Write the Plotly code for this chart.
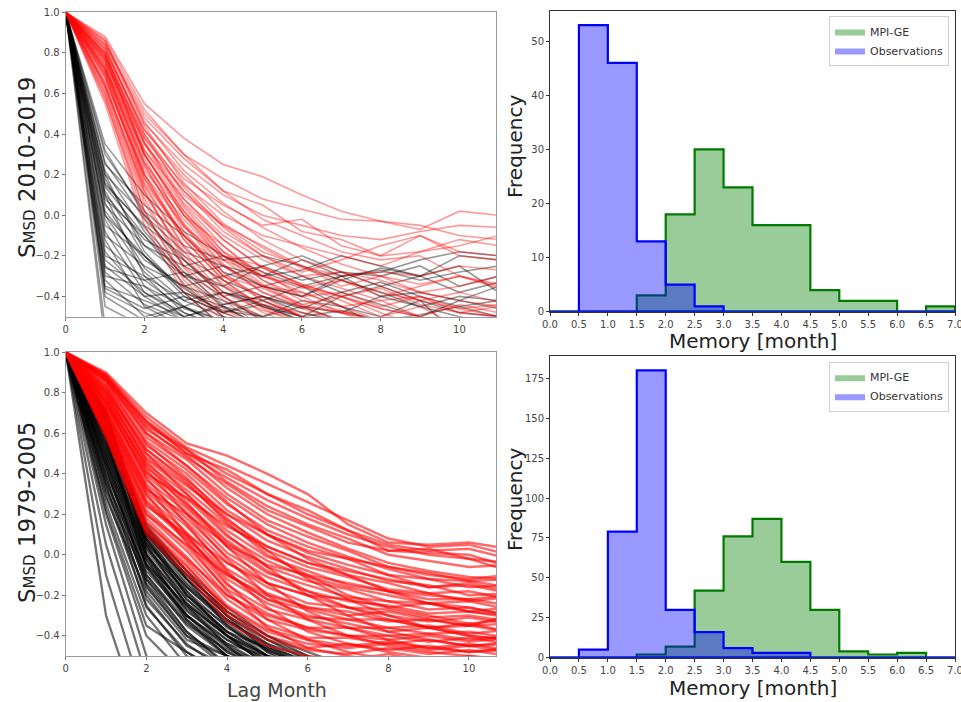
import plotly.graph_objects as go

# ---------------- data ----------------
LAGS = list(range(12))

# S_MSD autocorrelation curves, 2010-2019 (observations = black, MPI-GE = red)
TOP_OBS = [
    [1, -0.62, -0.7, -0.6, -0.65, -0.7, -0.6, -0.7, -0.65, -0.7, -0.6, -0.65],
    [1, -0.55, -0.6, -0.7],
    [1, -0.45, -0.55, -0.6],
    [1, -0.38, -0.48, -0.55, -0.5, -0.6],
    [1, -0.35, -0.42, -0.5, -0.45, -0.55, -0.6],
    [1, -0.3, -0.35, -0.45, -0.52, -0.6],
    [1, -0.25, -0.4, -0.38, -0.47, -0.5, -0.42, -0.45, -0.55],
    [1, -0.2, -0.3, -0.42, -0.38, -0.45, -0.5, -0.4, -0.35, -0.42, -0.48, -0.5],
    [1, -0.15, -0.32, -0.28, -0.4, -0.35, -0.3, -0.38, -0.33, -0.4, -0.45, -0.42],
    [1, -0.1, -0.25, -0.35, -0.3, -0.25, -0.32, -0.28, -0.35, -0.3, -0.38, -0.33],
    [1, -0.05, -0.2, -0.38, -0.45, -0.5, -0.55],
    [1, 0.0, -0.28, -0.45, -0.55],
    [1, 0.05, -0.15, -0.3, -0.35, -0.25, -0.2, -0.28, -0.3, -0.25, -0.35, -0.3],
    [1, 0.1, -0.12, -0.22, -0.38, -0.42, -0.5, -0.55],
    [1, 0.15, -0.05, -0.2, -0.32, -0.4, -0.45, -0.52],
    [1, 0.2, 0.0, -0.18, -0.25, -0.3, -0.22, -0.3, -0.28, -0.22, -0.18, -0.2],
    [1, 0.25, 0.05, -0.1, -0.28, -0.35, -0.4, -0.32, -0.38, -0.45, -0.4, -0.42],
    [1, 0.3, 0.02, -0.15, -0.22, -0.2, -0.25, -0.32, -0.26, -0.3, -0.25, -0.38],
    [1, 0.35, 0.1, -0.08, -0.2, -0.3, -0.27, -0.2, -0.25, -0.3, -0.2, -0.22],
    [1, 0.12, -0.2, -0.4, -0.48, -0.42, -0.35, -0.45, -0.5, -0.42, -0.6],
    [1, -0.32, -0.5, -0.45, -0.38, -0.44, -0.5, -0.47, -0.52, -0.49, -0.45, -0.5],
    [1, 0.08, -0.1, -0.3, -0.25, -0.35, -0.4, -0.3, -0.4, -0.38, -0.42, -0.35],
    [1, -0.02, -0.35, -0.5, -0.6],
    [1, 0.22, -0.08, -0.3, -0.45, -0.55],
    [1, -0.12, -0.45, -0.55],
    [1, 0.18, -0.15, -0.25, -0.2, -0.28, -0.35, -0.3, -0.27, -0.32, -0.28, -0.25],
    [1, -0.22, -0.38, -0.5, -0.44, -0.4, -0.46, -0.38, -0.44, -0.5, -0.42, -0.46],
    [1, 0.02, -0.22, -0.35, -0.42, -0.5, -0.45, -0.48, -0.4, -0.45, -0.5, -0.55],
    [1, -0.4, -0.52, -0.45, -0.55],
    [1, -0.36, -0.46, -0.4, -0.48, -0.44, -0.52],
    [1, -0.28, -0.44, -0.52],
    [1, -0.18, -0.4, -0.52],
    [1, -0.08, -0.38, -0.48, -0.55],
    [1, 0.0, -0.2, -0.36, -0.48, -0.55],
    [1, 0.06, -0.26, -0.42, -0.5, -0.55],
    [1, 0.14, -0.1, -0.34, -0.5, -0.58],
    [1, 0.2, -0.18, -0.38, -0.55],
    [1, 0.26, -0.02, -0.22, -0.4, -0.52],
    [1, 0.32, 0.0, -0.25, -0.35, -0.45, -0.52],
    [1, 0.16, -0.06, -0.28, -0.44, -0.4, -0.48, -0.52],
    [1, -0.26, -0.32, -0.46, -0.52],
    [1, 0.1, -0.3, -0.48, -0.56],
]
TOP_MODEL = [
    [1, 0.88, 0.55, 0.38, 0.25, 0.19, 0.1, 0.02, -0.03, -0.07, 0.02, 0.0],
    [1, 0.85, 0.5, 0.3, 0.18, 0.08, 0.03, -0.02, -0.03, -0.05, -0.1, -0.12],
    [1, 0.86, 0.45, 0.25, 0.1, 0.0, -0.05, -0.1, -0.12, -0.08, -0.05, -0.06],
    [1, 0.82, 0.42, 0.18, 0.05, -0.05, -0.02, -0.15, -0.2, -0.1, -0.18, -0.2],
    [1, 0.8, 0.38, 0.15, 0.0, -0.1, -0.15, -0.2, -0.25, -0.18, -0.15, -0.1],
    [1, 0.83, 0.4, 0.1, -0.05, -0.18, -0.25, -0.35, -0.3, -0.38, -0.35, -0.3],
    [1, 0.78, 0.35, 0.05, -0.15, -0.3, -0.35, -0.42, -0.5, -0.45, -0.55],
    [1, 0.8, 0.3, 0.0, -0.2, -0.25, -0.35, -0.4, -0.48, -0.55],
    [1, 0.75, 0.28, -0.05, -0.25, -0.35, -0.45, -0.52],
    [1, 0.77, 0.32, 0.08, -0.1, -0.22, -0.3, -0.28, -0.32, -0.38, -0.42, -0.45],
    [1, 0.72, 0.25, -0.08, -0.3, -0.4, -0.5, -0.55],
    [1, 0.7, 0.2, -0.12, -0.32, -0.45, -0.52],
    [1, 0.74, 0.22, -0.02, -0.22, -0.35, -0.38, -0.45, -0.42, -0.5, -0.55],
    [1, 0.68, 0.15, -0.15, -0.35, -0.48, -0.55],
    [1, 0.65, 0.12, -0.2, -0.4, -0.5, -0.6],
    [1, 0.62, 0.08, -0.25, -0.42, -0.55],
    [1, 0.6, 0.02, -0.3, -0.48, -0.55],
    [1, 0.58, -0.02, -0.35, -0.52],
    [1, 0.55, -0.05, -0.38, -0.55],
    [1, 0.76, 0.35, 0.12, -0.05, -0.15, -0.25, -0.3, -0.28, -0.3, -0.25, -0.27],
    [1, 0.79, 0.38, 0.12, -0.08, -0.2, -0.28, -0.22, -0.15, -0.1, -0.2, -0.22],
    [1, 0.73, 0.3, 0.02, -0.18, -0.28, -0.4, -0.38, -0.45, -0.4, -0.48, -0.45],
    [1, 0.7, 0.18, -0.1, -0.25, -0.38, -0.45, -0.48, -0.52],
    [1, 0.81, 0.42, 0.2, 0.02, -0.12, -0.22, -0.28, -0.35, -0.42, -0.38, -0.43],
    [1, 0.66, 0.2, -0.05, -0.28, -0.42, -0.5, -0.55],
    [1, 0.84, 0.48, 0.28, 0.12, -0.02, -0.1, -0.18, -0.22, -0.2, -0.3, -0.35],
    [1, 0.72, 0.26, 0.0, -0.15, -0.32, -0.42, -0.47, -0.52],
    [1, 0.63, 0.1, -0.18, -0.38, -0.47, -0.52],
    [1, 0.87, 0.52, 0.3, 0.12, 0.05, -0.08, -0.12, -0.2, -0.18, -0.12, -0.15],
    [1, 0.77, 0.3, 0.0, -0.22, -0.3, -0.38, -0.45, -0.52],
    [1, 0.71, 0.24, -0.06, -0.2, -0.3, -0.36, -0.32, -0.4, -0.35, -0.3, -0.34],
    [1, 0.69, 0.16, -0.1, -0.3, -0.36, -0.44, -0.4, -0.46, -0.5, -0.44, -0.48],
    [1, 0.64, 0.14, -0.16, -0.34, -0.44, -0.48, -0.53],
    [1, 0.79, 0.36, 0.06, -0.12, -0.26, -0.34, -0.4, -0.36, -0.44, -0.48, -0.5],
    [1, 0.86, 0.46, 0.22, 0.06, -0.06, -0.16, -0.24, -0.3, -0.34, -0.3, -0.36],
    [1, 0.84, 0.44, 0.16, -0.04, -0.16, -0.26, -0.32, -0.38, -0.42, -0.46, -0.44],
    [1, 0.8, 0.36, 0.08, -0.12, -0.26, -0.34, -0.4, -0.46, -0.5, -0.55],
    [1, 0.78, 0.32, 0.04, -0.18, -0.32, -0.4, -0.48, -0.52],
    [1, 0.74, 0.26, -0.04, -0.24, -0.38, -0.46, -0.52],
    [1, 0.72, 0.2, -0.1, -0.3, -0.42, -0.5, -0.56],
    [1, 0.68, 0.18, -0.12, -0.32, -0.46, -0.54],
    [1, 0.64, 0.12, -0.22, -0.4, -0.52],
    [1, 0.6, 0.06, -0.26, -0.46, -0.56],
    [1, 0.57, 0.02, -0.32, -0.5, -0.58],
    [1, 0.82, 0.4, 0.14, -0.06, -0.2, -0.3, -0.36, -0.42, -0.4, -0.46, -0.5],
    [1, 0.76, 0.3, 0.02, -0.2, -0.34, -0.44, -0.48, -0.55],
]

# S_MSD autocorrelation curves, 1979-2005
BOT_OBS = [
    [1, -0.3, -0.9],
    [1, -0.1, -0.75],
    [1, 0.05, -0.6],
    [1, 0.15, -0.5, -0.7],
    [1, 0.2, -0.4, -0.6],
    [1, 0.25, -0.3, -0.55],
    [1, 0.3, -0.25, -0.5, -0.6],
    [1, 0.35, -0.2, -0.45, -0.55],
    [1, 0.38, -0.15, -0.4, -0.5, -0.6],
    [1, 0.42, -0.1, -0.35, -0.5, -0.6],
    [1, 0.45, -0.05, -0.3, -0.45, -0.55],
    [1, 0.48, 0.0, -0.28, -0.42, -0.52],
    [1, 0.5, 0.02, -0.22, -0.38, -0.5, -0.56],
    [1, 0.52, 0.05, -0.2, -0.35, -0.48, -0.55],
    [1, 0.55, 0.08, -0.15, -0.32, -0.45, -0.55],
    [1, 0.58, 0.1, -0.12, -0.3, -0.42, -0.52],
    [1, 0.6, 0.12, -0.1, -0.28, -0.4, -0.5, -0.56],
    [1, 0.62, 0.15, -0.08, -0.3, -0.48, -0.6],
    [1, 0.65, 0.12, -0.12, -0.35, -0.5, -0.56],
    [1, 0.68, 0.1, -0.18, -0.4, -0.55],
    [1, 0.7, 0.05, -0.25, -0.45, -0.6],
    [1, 0.72, 0.0, -0.3, -0.48, -0.56],
    [1, 0.4, -0.05, -0.25, -0.4, -0.55],
    [1, 0.32, -0.12, -0.38, -0.55],
    [1, 0.28, -0.18, -0.42, -0.5, -0.6],
    [1, 0.46, -0.02, -0.32, -0.48, -0.58],
    [1, 0.56, 0.03, -0.18, -0.36, -0.47, -0.55],
    [1, 0.36, -0.08, -0.3, -0.44, -0.5, -0.58],
    [1, 0.22, -0.35, -0.48, -0.6],
    [1, 0.63, 0.08, -0.2, -0.38, -0.46, -0.52],
    [1, 0.53, -0.04, -0.26, -0.42, -0.53],
    [1, 0.44, -0.12, -0.34, -0.47, -0.55],
    [1, 0.66, 0.06, -0.16, -0.33, -0.44, -0.51],
    [1, 0.59, 0.0, -0.24, -0.4, -0.5, -0.57],
    [1, 0.7, 0.14, -0.12, -0.3, -0.44, -0.54],
    [1, 0.69, 0.08, -0.2, -0.38, -0.5, -0.56],
    [1, 0.67, 0.11, -0.14, -0.32, -0.46, -0.55],
    [1, 0.64, 0.04, -0.22, -0.4, -0.52],
    [1, 0.61, 0.06, -0.16, -0.34, -0.47, -0.55],
    [1, 0.57, -0.02, -0.27, -0.44, -0.55],
    [1, 0.54, 0.0, -0.24, -0.4, -0.5, -0.56],
    [1, 0.51, -0.06, -0.3, -0.46, -0.56],
    [1, 0.49, -0.1, -0.33, -0.5, -0.56],
    [1, 0.47, -0.14, -0.38, -0.54],
    [1, 0.43, -0.16, -0.4, -0.56],
    [1, 0.39, -0.22, -0.44, -0.58],
    [1, 0.34, -0.26, -0.48, -0.6],
    [1, 0.6, 0.1, -0.1, -0.28, -0.42, -0.5, -0.56],
    [1, 0.66, 0.13, -0.08, -0.26, -0.4, -0.48, -0.55],
    [1, 0.58, -0.06, -0.32, -0.5, -0.58],
]
BOT_MODEL = [
    [1, 0.58, 0.1, -0.1, -0.33, -0.45, -0.5, -0.52, -0.49, -0.53, -0.5, -0.52],
    [1, 0.59, 0.12, -0.08, -0.3, -0.42, -0.47, -0.49, -0.46, -0.49, -0.47, -0.5],
    [1, 0.6, 0.14, -0.05, -0.28, -0.4, -0.46, -0.44, -0.47, -0.45, -0.48, -0.46],
    [1, 0.62, 0.16, -0.03, -0.25, -0.37, -0.42, -0.45, -0.43, -0.46, -0.44, -0.47],
    [1, 0.63, 0.18, -0.01, -0.22, -0.35, -0.41, -0.41, -0.44, -0.42, -0.45, -0.43],
    [1, 0.64, 0.2, 0.02, -0.2, -0.32, -0.37, -0.4, -0.4, -0.43, -0.41, -0.44],
    [1, 0.65, 0.22, 0.04, -0.17, -0.29, -0.36, -0.36, -0.4, -0.39, -0.42, -0.4],
    [1, 0.66, 0.25, 0.07, -0.15, -0.27, -0.32, -0.36, -0.36, -0.39, -0.38, -0.41],
    [1, 0.68, 0.27, 0.09, -0.12, -0.24, -0.31, -0.32, -0.36, -0.35, -0.39, -0.37],
    [1, 0.69, 0.29, 0.11, -0.09, -0.22, -0.27, -0.32, -0.32, -0.36, -0.35, -0.38],
    [1, 0.7, 0.31, 0.14, -0.07, -0.19, -0.26, -0.28, -0.33, -0.32, -0.35, -0.34],
    [1, 0.71, 0.33, 0.16, -0.04, -0.16, -0.24, -0.26, -0.3, -0.33, -0.31, -0.34],
    [1, 0.72, 0.35, 0.18, -0.01, -0.14, -0.2, -0.26, -0.27, -0.31, -0.3, -0.33],
    [1, 0.74, 0.37, 0.21, 0.01, -0.11, -0.18, -0.23, -0.25, -0.29, -0.28, -0.31],
    [1, 0.75, 0.39, 0.23, 0.04, -0.09, -0.15, -0.21, -0.23, -0.27, -0.26, -0.3],
    [1, 0.76, 0.41, 0.25, 0.07, -0.06, -0.13, -0.17, -0.23, -0.24, -0.28, -0.26],
    [1, 0.77, 0.43, 0.28, 0.09, -0.03, -0.11, -0.16, -0.2, -0.24, -0.23, -0.27],
    [1, 0.78, 0.45, 0.3, 0.12, -0.01, -0.08, -0.15, -0.18, -0.22, -0.22, -0.25],
    [1, 0.8, 0.47, 0.32, 0.15, 0.02, -0.06, -0.11, -0.17, -0.19, -0.23, -0.21],
    [1, 0.81, 0.5, 0.35, 0.17, 0.04, -0.04, -0.1, -0.14, -0.19, -0.18, -0.22],
    [1, 0.82, 0.52, 0.37, 0.2, 0.07, -0.01, -0.07, -0.13, -0.15, -0.2, -0.19],
    [1, 0.83, 0.54, 0.4, 0.22, 0.1, 0.01, -0.05, -0.1, -0.16, -0.15, -0.19],
    [1, 0.84, 0.56, 0.42, 0.25, 0.12, 0.04, -0.02, -0.1, -0.12, -0.16, -0.15],
    [1, 0.86, 0.58, 0.44, 0.28, 0.15, 0.06, -0.01, -0.07, -0.12, -0.13, -0.16],
    [1, 0.87, 0.6, 0.47, 0.3, 0.17, 0.09, 0.02, -0.06, -0.09, -0.13, -0.12],
    [1, 0.88, 0.62, 0.49, 0.33, 0.2, 0.11, 0.03, -0.04, -0.08, -0.11, -0.12],
    [1, 0.85, 0.55, 0.38, 0.18, 0.02, -0.12, -0.22, -0.3, -0.36, -0.4, -0.42],
    [1, 0.83, 0.5, 0.3, 0.1, -0.06, -0.2, -0.3, -0.38, -0.42, -0.45, -0.44],
    [1, 0.8, 0.46, 0.26, 0.04, -0.14, -0.28, -0.36, -0.42, -0.46, -0.48, -0.47],
    [1, 0.78, 0.42, 0.2, -0.02, -0.2, -0.32, -0.4, -0.45, -0.48, -0.5, -0.52],
    [1, 0.75, 0.38, 0.15, -0.08, -0.26, -0.38, -0.44, -0.48, -0.51],
    [1, 0.72, 0.34, 0.1, -0.14, -0.32, -0.42, -0.48, -0.52],
    [1, 0.68, 0.3, 0.06, -0.18, -0.36, -0.46, -0.5, -0.53],
    [1, 0.62, 0.2, 0.05, -0.1, -0.2, -0.26, -0.3, -0.28, -0.32, -0.35, -0.3],
    [1, 0.65, 0.24, 0.1, -0.04, -0.14, -0.2, -0.22, -0.26, -0.24, -0.28, -0.3],
    [1, 0.7, 0.32, 0.2, 0.05, -0.05, -0.1, -0.14, -0.18, -0.2, -0.22, -0.2],
    [1, 0.74, 0.4, 0.28, 0.14, 0.04, -0.04, -0.08, -0.12, -0.16, -0.14, -0.18],
    [1, 0.79, 0.48, 0.34, 0.2, 0.1, 0.02, -0.02, -0.06, -0.1, -0.12, -0.1],
    [1, 0.86, 0.6, 0.44, 0.26, 0.1, -0.02, -0.1, -0.18, -0.24, -0.26, -0.3],
    [1, 0.81, 0.52, 0.36, 0.16, 0.0, -0.1, -0.2, -0.26, -0.3, -0.34, -0.32],
    [1, 0.76, 0.44, 0.24, 0.06, -0.08, -0.18, -0.26, -0.32, -0.36, -0.34, -0.38],
    [1, 0.6, 0.12, -0.06, -0.26, -0.38, -0.44, -0.46, -0.44, -0.47, -0.45, -0.48],
    [1, 0.63, 0.16, -0.02, -0.2, -0.3, -0.36, -0.4, -0.42, -0.4, -0.43, -0.41],
    [1, 0.67, 0.26, 0.08, -0.1, -0.22, -0.3, -0.34, -0.38, -0.36, -0.4, -0.42],
    [1, 0.9, 0.7, 0.55, 0.49, 0.4, 0.3, 0.15, 0.06, 0.05, 0.06, 0.03],
    [1, 0.89, 0.68, 0.53, 0.44, 0.35, 0.26, 0.17, 0.08, 0.04, 0.05, 0.0],
    [1, 0.89, 0.66, 0.52, 0.4, 0.3, 0.22, 0.12, 0.05, 0.02, 0.03, -0.02],
    [1, 0.88, 0.65, 0.5, 0.38, 0.27, 0.18, 0.1, 0.04, 0.0, -0.02, -0.04],
    [1, 0.88, 0.64, 0.52, 0.36, 0.24, 0.15, 0.08, 0.0, -0.03, -0.06, -0.05],
    [1, 0.87, 0.66, 0.5, 0.42, 0.3, 0.2, 0.12, 0.02, 0.01, 0.0, -0.06],
    [1, 0.86, 0.63, 0.48, 0.35, 0.22, 0.14, 0.06, 0.02, 0.03, -0.02, -0.08],
]

# histograms of memory (bin edges 0..7 step 0.5)
BIN_EDGES = [0.0, 0.5, 1.0, 1.5, 2.0, 2.5, 3.0, 3.5, 4.0, 4.5, 5.0, 5.5, 6.0, 6.5, 7.0]
TOP_HIST_MODEL = [0, 0, 0, 3, 18, 30, 23, 16, 16, 4, 2, 2, 0, 1]
TOP_HIST_OBS = [0, 53, 46, 13, 5, 1, 0, 0, 0, 0, 0, 0, 0, 0]
BOT_HIST_MODEL = [0, 0, 0, 2, 7, 42, 76, 87, 60, 30, 4, 2, 3, 0]
BOT_HIST_OBS = [0, 5, 79, 180, 30, 16, 6, 3, 3, 0, 0, 0, 0, 0]

LINE_XTICKS = [0, 2, 4, 6, 8, 10]
LINE_YTICKS = [1.0, 0.8, 0.6, 0.4, 0.2, 0.0, -0.2, -0.4]
LINE_YTEXT = ["1.0", "0.8", "0.6", "0.4", "0.2", "0.0", "\u22120.2", "\u22120.4"]
HIST_XTICKS = BIN_EDGES
HIST_XTEXT = ["%.1f" % v for v in BIN_EDGES]
TOP_HIST_YTICKS = [0, 10, 20, 30, 40, 50]
BOT_HIST_YTICKS = [0, 25, 50, 75, 100, 125, 150, 175]

# ---------------- figure ----------------
W, H = 961, 702
fig = go.Figure()


def add_curves(curves, color, width, xa, ya):
    for c in curves:
        fig.add_trace(go.Scatter(
            x=LAGS[:len(c)], y=c, mode="lines",
            line=dict(color=color, width=width),
            showlegend=False, hoverinfo="skip", xaxis=xa, yaxis=ya))


add_curves(TOP_OBS, "rgba(0,0,0,0.4)", 1.6, "x", "y")
add_curves(TOP_MODEL, "rgba(255,0,0,0.4)", 1.6, "x", "y")
add_curves(BOT_OBS, "rgba(0,0,0,0.55)", 2.3, "x2", "y2")
add_curves(BOT_MODEL, "rgba(255,0,0,0.58)", 2.5, "x2", "y2")


def step_poly(counts):
    xs, ys = [BIN_EDGES[0]], [0]
    for i, c in enumerate(counts):
        xs += [BIN_EDGES[i], BIN_EDGES[i + 1]]
        ys += [c, c]
    xs += [BIN_EDGES[-1], BIN_EDGES[0]]
    ys += [0, 0]
    return xs, ys


def add_hist(counts, name, fill, edge, xa, ya, legend):
    xs, ys = step_poly(counts)
    fig.add_trace(go.Scatter(
        x=xs, y=ys, mode="lines", fill="toself", fillcolor=fill,
        line=dict(color=edge, width=2.2), showlegend=False,
        hoverinfo="skip", xaxis=xa, yaxis=ya))
    # legend entry drawn as a plain filled patch (no outline), like the reference
    fig.add_trace(go.Scatter(
        x=[None], y=[None], mode="lines", fill="toself", fillcolor=fill,
        line=dict(width=0, color=fill), name=name, legend=legend,
        hoverinfo="skip", xaxis=xa, yaxis=ya))


GREEN_FILL, GREEN_EDGE = "rgba(0,128,0,0.4)", "#007a00"
BLUE_FILL, BLUE_EDGE = "rgba(0,0,255,0.4)", "#0000ff"
add_hist(TOP_HIST_MODEL, "MPI-GE", GREEN_FILL, GREEN_EDGE, "x3", "y3", "legend")
add_hist(TOP_HIST_OBS, "Observations", BLUE_FILL, BLUE_EDGE, "x3", "y3", "legend")
add_hist(BOT_HIST_MODEL, "MPI-GE", GREEN_FILL, GREEN_EDGE, "x4", "y4", "legend2")
add_hist(BOT_HIST_OBS, "Observations", BLUE_FILL, BLUE_EDGE, "x4", "y4", "legend2")


def px_x(p):
    return p / W


def px_y(p):
    return 1 - p / H


tickfont = dict(family="DejaVu Sans", size=10, color="#444")
left_axis = dict(showgrid=False, zeroline=False, showline=True, linecolor="#9a9a9a",
                 linewidth=1, mirror=True, ticks="outside", ticklen=3, tickcolor="#777",
                 tickfont=tickfont, automargin=False, ticklabeloverflow="allow")
right_axis = dict(showgrid=False, zeroline=False, showline=True, linecolor="#333",
                  linewidth=1, mirror=True, ticks="outside", ticklen=3, tickcolor="#333",
                  tickfont=tickfont, automargin=False, ticklabeloverflow="allow")

L_DOM = [px_x(65.7), px_x(496)]
R_DOM = [px_x(550), px_x(955)]

legend_common = dict(xanchor="right", yanchor="top",
                     bgcolor="rgba(255,255,255,0.8)", bordercolor="#d0d0d0", borderwidth=1,
                     font=dict(family="DejaVu Sans", size=11, color="#333"),
                     itemwidth=30, tracegroupgap=0)

fig.update_layout(
    template="none",
    width=W, height=H, margin=dict(l=0, r=0, t=0, b=0, autoexpand=False),
    paper_bgcolor="white", plot_bgcolor="white",
    font=dict(family="DejaVu Sans", color="#333"),
    xaxis=dict(domain=L_DOM, range=[0, 10.93], tickvals=LINE_XTICKS, anchor="y", **left_axis),
    yaxis=dict(domain=[px_y(316.7), px_y(12.3)], range=[-0.5, 1.0], tickvals=LINE_YTICKS,
               ticktext=LINE_YTEXT, anchor="x", **left_axis),
    xaxis2=dict(domain=L_DOM, range=[0, 10.67], tickvals=LINE_XTICKS, anchor="y2", **left_axis),
    yaxis2=dict(domain=[px_y(656), px_y(352.3)], range=[-0.5, 1.0], tickvals=LINE_YTICKS,
                ticktext=LINE_YTEXT, anchor="x2", **left_axis),
    xaxis3=dict(domain=R_DOM, range=[0, 7], tickvals=HIST_XTICKS, ticktext=HIST_XTEXT,
                anchor="y3", **right_axis),
    yaxis3=dict(domain=[px_y(311.7), px_y(10.7)], range=[0, 55.65], tickvals=TOP_HIST_YTICKS,
                anchor="x3", **right_axis),
    xaxis4=dict(domain=R_DOM, range=[0, 7], tickvals=HIST_XTICKS, ticktext=HIST_XTEXT,
                anchor="y4", **right_axis),
    yaxis4=dict(domain=[px_y(657.7), px_y(356)], range=[0, 189], tickvals=BOT_HIST_YTICKS,
                anchor="x4", **right_axis),
    legend=dict(x=px_x(949), y=px_y(16), **legend_common),
    legend2=dict(x=px_x(949), y=px_y(361.7), **legend_common),
)

title_font = dict(family="DejaVu Sans", size=20, color="#222")
ann = [
    dict(text="S<span style='font-size:15px'>MSD</span> 2010-2019", x=px_x(27), y=px_y(168),
         textangle=-90, font=dict(family="DejaVu Sans", size=23, color="#222")),
    dict(text="S<span style='font-size:15px'>MSD</span> 1979-2005", x=px_x(27), y=px_y(513),
         textangle=-90, font=dict(family="DejaVu Sans", size=23, color="#222")),
    dict(text="Lag Month", x=px_x(277), y=px_y(690), font=dict(family="DejaVu Sans", size=19, color="#444")),
    dict(text="Frequency", x=px_x(515), y=px_y(147), textangle=-90, font=title_font),
    dict(text="Frequency", x=px_x(515), y=px_y(500), textangle=-90, font=title_font),
    dict(text="Memory [month]", x=px_x(753), y=px_y(341), font=title_font),
    dict(text="Memory [month]", x=px_x(753), y=px_y(688), font=title_font),
]
for a in ann:
    a.update(xref="paper", yref="paper", showarrow=False, xanchor="center", yanchor="middle")
fig.update_layout(annotations=ann)

# place the figure flush with the page corner (no default 8px body margin), no mode bar
fig.write_html("out.html",
               config={"displayModeBar": False},
               post_script="document.body.style.margin='0';document.body.style.overflow='hidden';")
